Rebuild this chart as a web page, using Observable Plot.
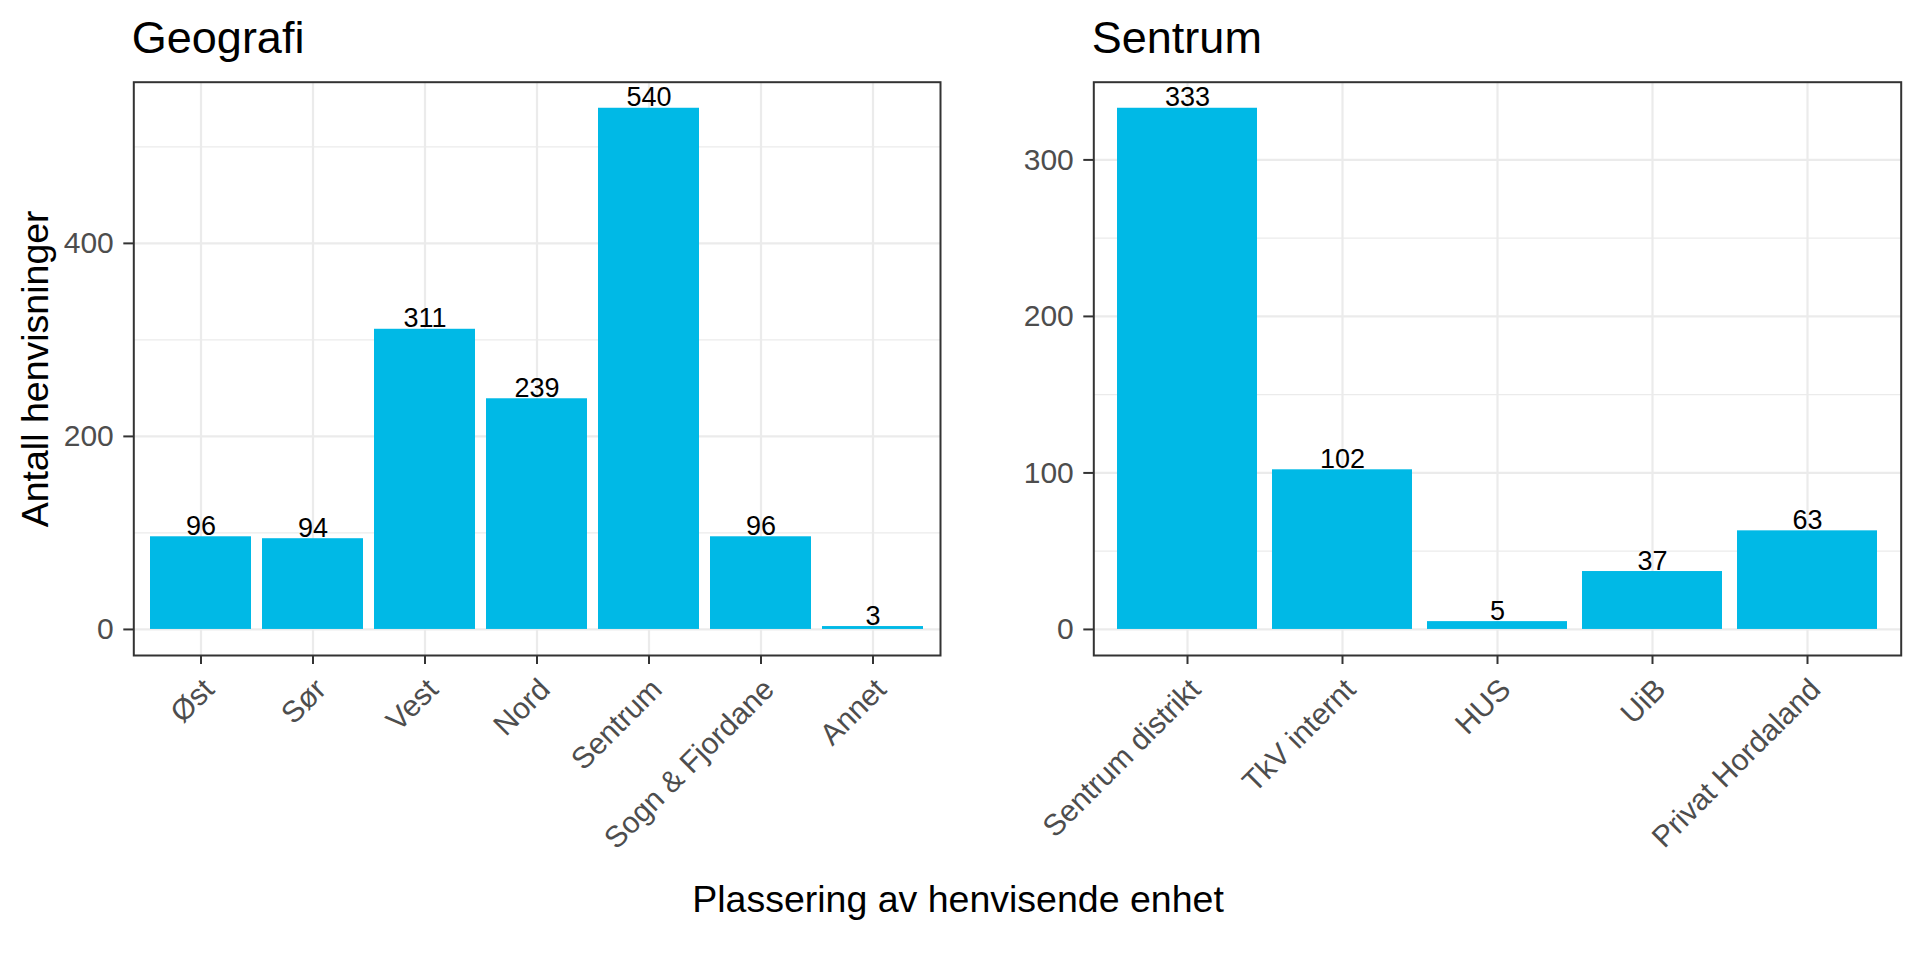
<!DOCTYPE html>
<html><head><meta charset="utf-8">
<script src="https://cdn.jsdelivr.net/npm/d3@7"></script>
<script src="https://cdn.jsdelivr.net/npm/@observablehq/plot@0.6"></script>
<style>
body{margin:0;background:#fff;}
#wrap{position:relative;width:1920px;height:960px;overflow:hidden;font-family:"Liberation Sans",Arial,Helvetica,sans-serif;background:#fff;}
.panel{position:absolute;top:0;}
#xtitle{position:absolute;left:0;width:1916px;text-align:center;top:881px;font-size:37.5px;line-height:37.5px;color:#000;white-space:nowrap;}
</style></head><body>
<div id="wrap">
  <div id="p1" class="panel" style="left:0px"></div>
  <div id="p2" class="panel" style="left:960px"></div>
  <div id="xtitle">Plassering av henvisende enhet</div>
</div>
<script>
// ---- data ----
const geoCats = ["Øst", "Sør", "Vest", "Nord", "Sentrum", "Sogn & Fjordane", "Annet"];
const geoValues = [96, 94, 311, 239, 540, 96, 3];
const senCats = ["Sentrum distrikt", "TkV internt", "HUS", "UiB", "Privat Hordaland"];
const senValues = [333, 102, 5, 37, 63];
const geoMajor = [0, 200, 400];
const geoMinor = [100, 300, 500];
const senMajor = [0, 100, 200, 300];
const senMinor = [50, 150, 250];
const panelTitles = ["Geografi", "Sentrum"];
const yTitle = "Antall henvisninger";

const barColor = "#00b9e6";
const gridColor = "#ebebeb";
const FONT = "'Liberation Sans', Arial, Helvetica, sans-serif";

function panel({cats, values, major, minor, title, ylabel, marginRight}) {
  const data = cats.map((c, i) => ({cat: c, value: values[i]}));
  const max = d3.max(values);
  const pad = max * 0.05;
  const marks = [
    Plot.gridY(minor, {stroke: gridColor, strokeOpacity: 1, strokeWidth: 1.2}),
    Plot.gridY(major, {stroke: gridColor, strokeOpacity: 1, strokeWidth: 2.2}),
    Plot.gridX(cats, {stroke: gridColor, strokeOpacity: 1, strokeWidth: 2.2}),
    Plot.barY(data, {x: "cat", y: "value", fill: barColor}),
    Plot.text(data, {x: "cat", y: "value", text: d => String(d.value), lineAnchor: "bottom", dy: -2, fontSize: 27, fill: "#000"}),
    Plot.frame({stroke: "#333333", strokeWidth: 2}),
    Plot.axisY({ticks: major, tickSize: 10, tickPadding: 10, fontSize: 30, fill: "#4d4d4d", stroke: "#333333", strokeWidth: 2, label: null}),
    Plot.axisX({tickSize: 9, tickPadding: 0, stroke: "#333333", strokeWidth: 2, tickFormat: () => "", label: null}),
    Plot.text(cats, {x: d => d, frameAnchor: "bottom", text: d => d, rotate: -45, textAnchor: "end", lineAnchor: "middle", dx: 8, dy: 29, fontSize: 30, fill: "#4d4d4d"}),
    Plot.text([title], {frameAnchor: "top-left", text: d => d, textAnchor: "start", lineAnchor: "bottom", dx: -2, dy: -29, fontSize: 45, fill: "#000"})
  ];
  if (ylabel) {
    marks.push(Plot.text([ylabel], {frameAnchor: "left", text: d => d, rotate: -90, textAnchor: "middle", lineAnchor: "bottom", dx: -86, fontSize: 37.5, fill: "#000"}));
  }
  return Plot.plot({
    width: 960,
    height: 870,
    marginLeft: 133.3,
    marginRight: marginRight,
    marginTop: 81.7,
    marginBottom: 215,
    style: {fontFamily: FONT, overflow: "visible", background: "transparent"},
    x: {domain: cats, paddingInner: 0.1, paddingOuter: 0.15, align: 0.5, label: null},
    y: {domain: [-pad, max + pad], label: null},
    marks
  });
}

document.getElementById("p1").appendChild(panel({cats: geoCats, values: geoValues, major: geoMajor, minor: geoMinor, title: panelTitles[0], ylabel: yTitle, marginRight: 20}));
document.getElementById("p2").appendChild(panel({cats: senCats, values: senValues, major: senMajor, minor: senMinor, title: panelTitles[1], ylabel: null, marginRight: 19.3}));
</script>
</body></html>
